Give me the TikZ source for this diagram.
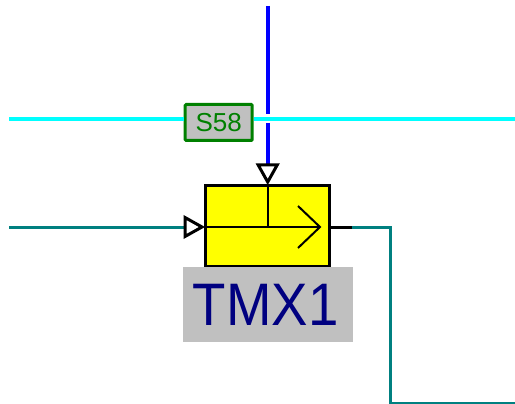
\documentclass[tikz,border=0pt]{standalone}
\usepackage{fontspec}
\setmainfont{Liberation Sans}
\newfontfamily\captionfont[FakeStretch=0.91]{Liberation Sans}
\usepackage{xcolor}
\definecolor{wirecyan}{RGB}{0,255,255}
\definecolor{wireteal}{RGB}{0,128,128}
\definecolor{wireblue}{RGB}{0,0,255}
\definecolor{tagfill}{RGB}{192,192,192}
\definecolor{taggreen}{RGB}{0,128,0}
\definecolor{tagnavy}{RGB}{0,0,128}
\definecolor{blockyellow}{RGB}{255,255,0}
\usetikzlibrary{shapes.geometric}
\tikzset{
    block/.style ={rectangle, draw=black, fill=blockyellow, line width=3.5pt, inner sep=0pt,
                   minimum width=124pt, minimum height=81pt},
    signal/.style ={rectangle, draw=taggreen, fill=tagfill, line width=3pt, inner sep=0pt, rounded corners=1pt,
                    minimum width=67pt, minimum height=36pt, text=taggreen, font=\fontsize{26}{26}\selectfont},
    caption/.style ={rectangle, fill=tagfill, inner sep=0pt, minimum width=170pt, minimum height=75pt,
                     text=tagnavy, font=\captionfont\fontsize{60}{60}\selectfont},
    pin/.style ={isosceles triangle, isosceles triangle apex angle=60, isosceles triangle stretches,
                 draw=black, fill=white, line width=3pt,
                 inner sep=0pt, minimum height=17pt, minimum width=19pt, anchor=apex},
    tealwire/.style ={wireteal, line width=3pt},
    cyanwire/.style ={wirecyan, line width=4pt},
    bluewire/.style ={wireblue, line width=4pt}
    }
\begin{document}
\begin{tikzpicture}[x=1pt, y=-1pt]
    \useasboundingbox (0,0) rectangle (515,404);

    \coordinate (cyanleft) at (9,119);
    \coordinate (cyanright) at (515,119);
    \coordinate (bluetop) at (267.7,6);
    \coordinate (bluecut) at (267.7,114);
    \coordinate (bluecont) at (267.7,123);
    \coordinate (tealleft) at (9,227);
    \coordinate (tealbend) at (390,227);
    \coordinate (tealdrop) at (390,403);
    \coordinate (tealright) at (515,403);
    \coordinate (stub) at (352,227);
    \coordinate (tip) at (320,227);
    \coordinate (tickup) at (298,206);
    \coordinate (tickdown) at (298,248);
    \coordinate (tmxcentre) at (267.7,227);

    \node[block] (tmx) at (267.7,226.2) {};
    \node[caption] (label) at (267.7,304.8) {TMX1\hspace*{4pt}};
    \node[signal] (s58) at (218.7,122.5) {S58};

    \draw[cyanwire] (cyanleft) -- (s58.west |- cyanleft);
    \draw[cyanwire] (s58.east |- cyanright) -- (cyanright);
    \draw[bluewire] (bluetop) -- (bluecut);
    \draw[bluewire] (bluecont) -- (267.7,170);
    \draw[tealwire] (tealleft) -- (190,227);
    \draw[tealwire] (stub) -- (tealbend) -- (tealdrop) -- (tealright);
    \draw[line width=3pt] (tmx.east |- tip) -- (stub);
    \draw[line width=2pt] (tmx.west |- tip) -- (tip);
    \draw[line width=2pt] (tmx.north) -- (tmxcentre);
    \draw[line width=2pt] (tickup) -- (tip) -- (tickdown);

    \node[pin, shape border rotate=-90] (pintop) at (267.7,185) {};
    \node[pin] (pinleft) at (205,227) {};
\end{tikzpicture}
\end{document}
